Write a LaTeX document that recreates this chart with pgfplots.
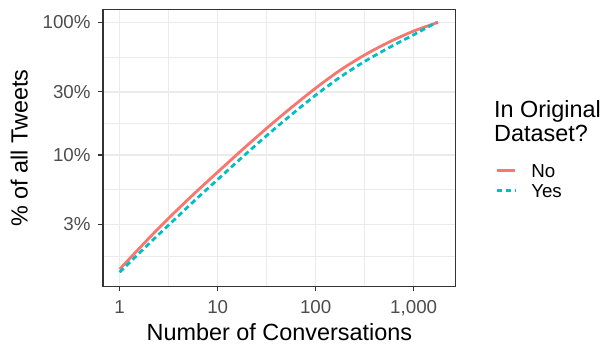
\documentclass[border=0pt]{standalone}
\usepackage{pgfplots}
\pgfplotsset{compat=1.18}
\usepackage{fontspec}
\setmainfont{Liberation Sans}
\definecolor{gNo}{HTML}{F8766D}
\definecolor{gYes}{HTML}{00BFC4}
\definecolor{grey92}{HTML}{EBEBEB}
\definecolor{grey20}{HTML}{333333}
\definecolor{grey30}{HTML}{4D4D4D}
\pgfplotstableread{
x y
1 1.380
2 2.371
3.162 3.342
5.623 5.029
10 7.438
17.78 10.94
31.62 15.91
56.23 22.73
100 31.92
177.8 43.55
316.2 56.75
562.3 71.04
1000 85.90
1778 100
}\dataNo
\pgfplotstableread{
x y
1 1.309
2 2.153
3.162 2.965
5.623 4.432
10 6.540
17.78 9.616
31.62 14.01
56.23 20.07
100 28.25
177.8 38.64
316.2 50.70
562.3 64.50
1000 80.54
1718 100
}\dataYes
\begin{document}
\begin{tikzpicture}
\path[use as bounding box] (-103bp,-60.3bp) rectangle (506bp,286.7bp);
\begin{axis}[
  at={(0,0)}, anchor=south west,
  scale only axis, width=352.7bp, height=277.2bp,
  xmode=log, ymode=log,
  xmin=0.676, xmax=2685, ymin=1.018, ymax=124.9,
  xtick={1,10,100,1000}, xticklabels={1,10,100,{1,000}},
  ytick={3,10,30,100}, yticklabels={3\%,10\%,30\%,100\%},
  minor xtick={3.1623,31.623,316.23},
  minor ytick={1.7321,5.4772,17.321,54.772},
  grid=both,
  major grid style={draw=grey92, line width=1.6bp},
  minor grid style={draw=grey92, line width=0.8bp},
  tick align=outside, major tick length=4.7bp, minor tick length=0pt,
  tick style={draw=grey20, line width=1.1bp},
  axis line style={draw=grey20, line width=1.1bp},
  xtick pos=lower, ytick pos=left,
  ticklabel style={font=\fontsize{18.8}{22}\selectfont, text=grey30, inner sep=0pt},
  xticklabel style={yshift=-8.6bp},
  yticklabel style={xshift=-7.6bp},
  label style={font=\fontsize{23.5}{26}\selectfont},
  xlabel={Number of Conversations},
  ylabel={\% of all Tweets},
  xlabel style={at={(axis description cs:0.5,-0.1923)}, anchor=base},
  ylabel style={at={(axis description cs:-0.2135,0.5)}, anchor=base},
  legend style={at={(axis description cs:1.1114,0.383)}, anchor=west, draw=none, fill=none,
    font=\fontsize{18.8}{22}\selectfont, inner sep=0pt,
    nodes={inner sep=0pt, text height=13.5bp, text depth=0bp},
    row sep=6bp,
    /tikz/every odd column/.append style={column sep=15bp}},
  legend cell align=left,
  legend image code/.code={\draw[#1] (0bp,0bp) -- (18.3bp,0bp);},
]
\addplot[gNo, line width=2.8bp, smooth, tension=0.5] table[x=x,y=y] {\dataNo};
\addlegendentry{No}
\addplot[gYes, line width=2.8bp, smooth, tension=0.5, dash pattern=on 5.5bp off 3.5bp] table[x=x,y=y] {\dataYes};
\addlegendentry{Yes}
\end{axis}
\node[anchor=north west, align=left, inner sep=0pt, font=\fontsize{23.5}{24.4}\selectfont] at (391bp,186.7bp) {In Original\\Dataset?};
\end{tikzpicture}
\end{document}
